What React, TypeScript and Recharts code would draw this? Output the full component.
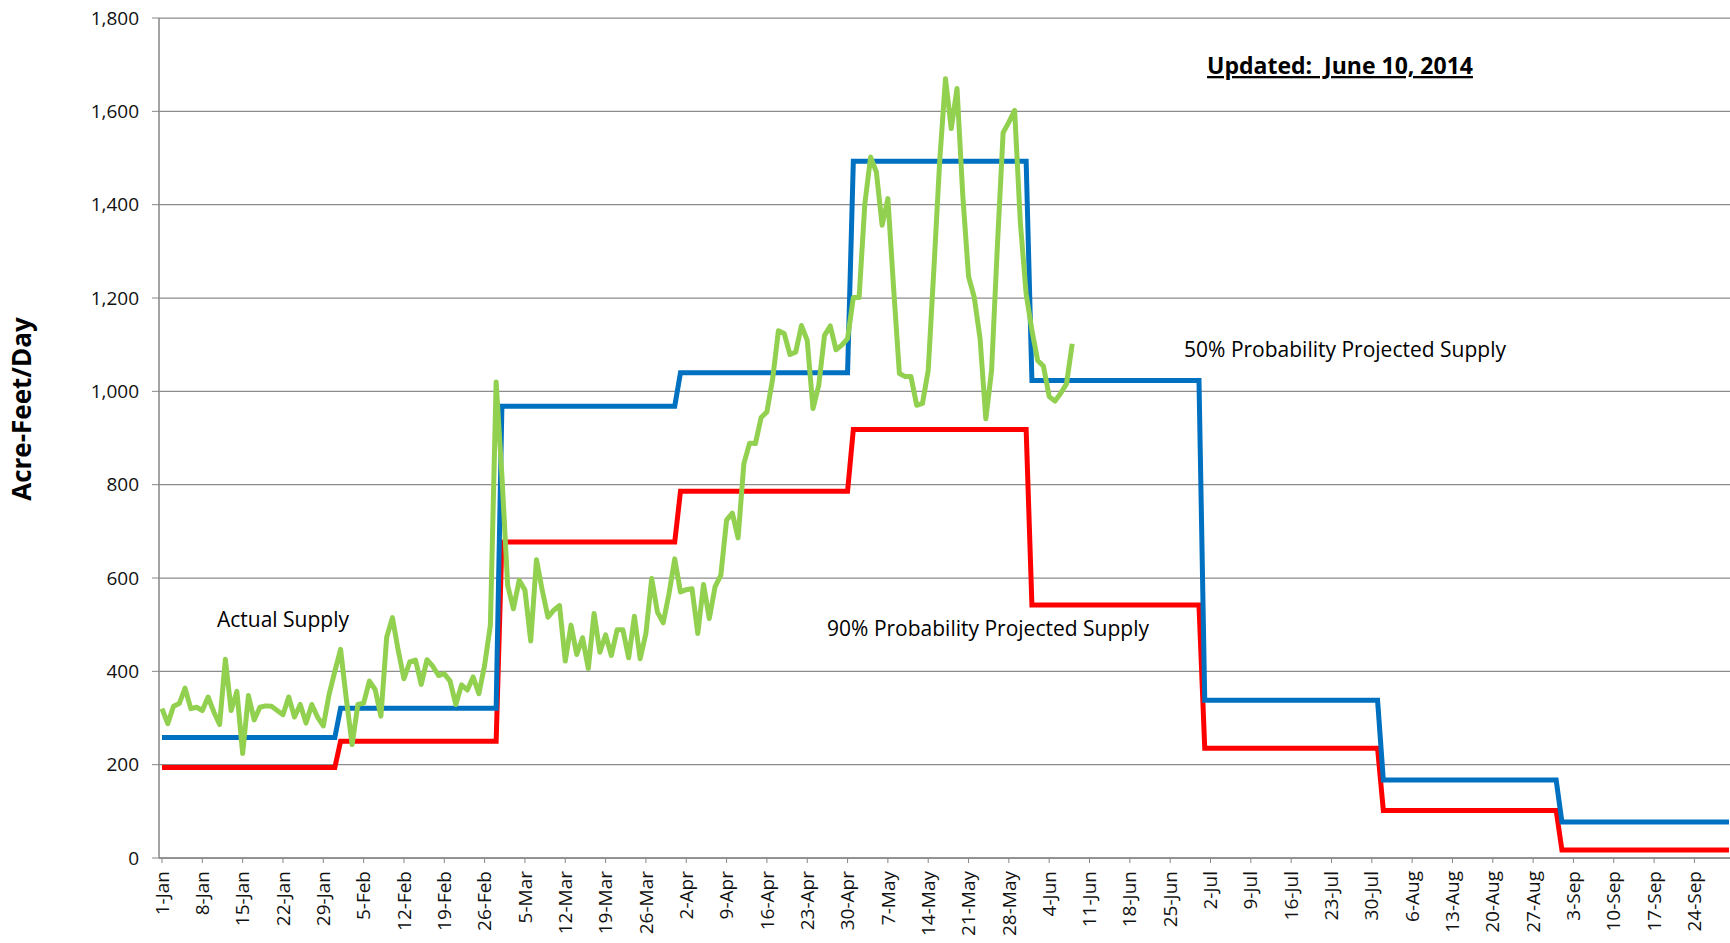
import { LineChart, Line, XAxis, YAxis, CartesianGrid } from 'recharts';

// Month blocks used for the daily category axis
const MONTHS = ['Jan', 'Feb', 'Mar', 'Apr', 'May', 'Jun', 'Jul', 'Aug', 'Sep'];
const MONTH_DAYS = [31, 28, 31, 30, 31, 30, 31, 31, 30];

// Projected supply per month (acre-feet/day), constant within each month
const PROJECTED_50 = [258, 321, 968, 1040, 1493, 1023, 338, 167, 77];
const PROJECTED_90 = [194, 250, 677, 786, 918, 542, 235, 102, 17];

// Actual daily supply, 1-Jan through 8-Jun
const ACTUAL = [
  320, 288, 325, 331, 364, 320, 323, 316, 345, 313,
  286, 426, 316, 357, 224, 348, 296, 323, 326, 325,
  316, 307, 345, 302, 329, 289, 329, 302, 283, 350,
  400, 447, 340, 243, 329, 332, 379, 361, 304, 473,
  515, 445, 384, 420, 424, 372, 425, 411, 391, 395,
  379, 329, 371, 360, 388, 352, 413, 499, 1020, 820,
  584, 534, 595, 574, 465, 639, 574, 516, 531, 541,
  422, 499, 436, 472, 406, 524, 441, 478, 434, 489,
  489, 429, 518, 427, 481, 599, 527, 504, 566, 641,
  570, 575, 577, 481, 586, 513, 581, 606, 724, 739,
  686, 845, 889, 888, 944, 956, 1027, 1130, 1124, 1079,
  1084, 1141, 1109, 963, 1013, 1120, 1140, 1089, 1099, 1113,
  1201, 1201, 1402, 1502, 1470, 1356, 1413, 1220, 1038, 1032,
  1032, 970, 974, 1045, 1266, 1495, 1670, 1563, 1649, 1420,
  1246, 1201, 1113, 941, 1045, 1310, 1554, 1577, 1602, 1360,
  1209, 1131, 1066, 1054, 989, 979, 996, 1016, 1102,
];

const Y_TICKS = [0, 200, 400, 600, 800, 1000, 1200, 1400, 1600, 1800];

const data = MONTHS.flatMap((m, mi) =>
  Array.from({ length: MONTH_DAYS[mi] }, (_, d) => ({
    date: `${d + 1}-${m}`,
    p50: PROJECTED_50[mi],
    p90: PROJECTED_90[mi],
  }))
).map((row, i) => ({ ...row, actual: i < ACTUAL.length ? ACTUAL[i] : undefined }));

const FONT = '"Open Sans", sans-serif';
const AXIS_GRAY = '#868686';

function XTick({ x, y, payload }: any) {
  return (
    <text
      x={x}
      y={y}
      transform={`rotate(-90 ${x} ${y})`}
      textAnchor="end"
      dy="0.35em"
      fontSize={19}
      fontFamily={FONT}
      fill="#111"
    >
      {payload.value}
    </text>
  );
}

export default function App() {
  return (
    <div
      style={{
        position: 'absolute',
        left: 0,
        top: 0,
        width: 1730,
        height: 943,
        overflow: 'hidden',
        background: '#fff',
      }}
    >
      <LineChart
        width={1740}
        height={943}
        data={data}
        margin={{ top: 18, right: 8, left: 0, bottom: 0 }}
      >
        <CartesianGrid vertical={false} stroke="#8c8c8c" strokeWidth={1.25} />
        <XAxis
          dataKey="date"
          interval={6}
          height={85}
          tickSize={5}
          tickMargin={8}
          padding={{ left: 3, right: 3 }}
          tick={<XTick />}
          axisLine={{ stroke: AXIS_GRAY, strokeWidth: 1.5 }}
          tickLine={{ stroke: AXIS_GRAY }}
        />
        <YAxis
          domain={[0, 1800]}
          ticks={Y_TICKS}
          interval={0}
          width={159}
          tickSize={7}
          tickMargin={13}
          tickFormatter={(v: number) => v.toLocaleString('en-US')}
          tick={{ fontSize: 19, fontFamily: FONT, fill: '#111' }}
          axisLine={{ stroke: AXIS_GRAY, strokeWidth: 1.5 }}
          tickLine={{ stroke: AXIS_GRAY }}
        />
        <Line
          type="linear"
          dataKey="p90"
          stroke="#FF0000"
          strokeWidth={5}
          dot={false}
          activeDot={false}
          isAnimationActive={false}
        />
        <Line
          type="linear"
          dataKey="p50"
          stroke="#0070C0"
          strokeWidth={5}
          dot={false}
          activeDot={false}
          isAnimationActive={false}
        />
        <Line
          type="linear"
          dataKey="actual"
          stroke="#92D050"
          strokeWidth={5}
          strokeLinejoin="round"
          dot={false}
          activeDot={false}
          isAnimationActive={false}
        />
      </LineChart>
      <svg
        width={1730}
        height={943}
        style={{ position: 'absolute', left: 0, top: 0, pointerEvents: 'none' }}
        fontFamily={FONT}
      >
        <text
          x={31}
          y={409}
          transform="rotate(-90 31 409)"
          textAnchor="middle"
          fontSize={26}
          fontWeight="bold"
          fill="#000"
        >
          Acre-Feet/Day
        </text>
        <text
          x={1340}
          y={74}
          textAnchor="middle"
          fontSize={23}
          fontWeight="bold"
          textDecoration="underline"
          style={{ whiteSpace: 'pre' }}
          fill="#000"
        >
          {'Updated:  June 10, 2014'}
        </text>
        <text x={283} y={627} textAnchor="middle" fontSize={21} fill="#000">
          Actual Supply
        </text>
        <text x={1345} y={357} textAnchor="middle" fontSize={21} fill="#000">
          50% Probability Projected Supply
        </text>
        <text x={988} y={636} textAnchor="middle" fontSize={21} fill="#000">
          90% Probability Projected Supply
        </text>
      </svg>
    </div>
  );
}
